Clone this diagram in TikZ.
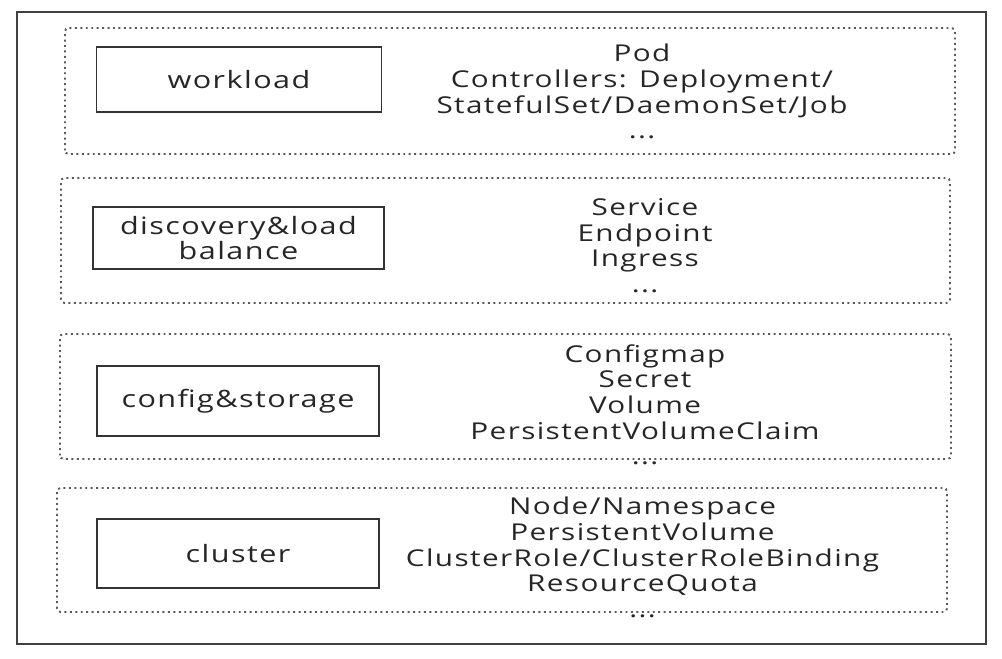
\documentclass[tikz,border=0pt]{standalone}
\usepackage{fontspec}
\setmainfont[FakeStretch=1.28,LetterSpace=6]{Open Sans}
\usepackage{tikz}
\usetikzlibrary{positioning}

\begin{document}
\begin{tikzpicture}[
    caja/.style={draw=black!80, line width=1.1pt, inner sep=0pt, align=center,
        minimum width=5.7cm, minimum height=1.33cm, text=black!85,
        font=\fontsize{13.6}{14.6}\selectfont},
    grupo/.style={draw=black!65, dotted, line width=1.1pt, rounded corners=2pt},
    lista/.style={anchor=north, inner sep=0pt, align=center, text=black!85,
        font=\fontsize{13.2}{14.6}\selectfont}
]

    % Marco de la figura (proporciones de la referencia)
    \useasboundingbox (0,0) rectangle (20.04,13.16);

    % --- 1. MARCO EXTERIOR ---
    \draw[line width=1.4pt, black!75] (0.34,0.28) rectangle (19.72,12.92);

    % --- 2. GRUPOS (rectángulos punteados) ---
    \draw[grupo] (1.30,10.08) rectangle (19.10,12.60); % workload
    \draw[grupo] (1.22,7.10) rectangle (19.00,9.60);   % discovery
    \draw[grupo] (1.20,3.98) rectangle (19.02,6.48);   % config
    \draw[grupo] (1.14,0.92) rectangle (18.94,3.40);   % cluster

    % --- 3. CATEGORÍAS (cajas de la izquierda) ---
    \node[caja, minimum height=1.30cm] (workload) at (4.78,11.57) {workload};
    \node[caja, minimum width=5.82cm, minimum height=1.24cm] (discovery) at (4.77,8.40) {discovery\&load\\balance};
    \node[caja, minimum width=5.64cm, minimum height=1.40cm] (config) at (4.76,5.14) {config\&storage};
    \node[caja, minimum width=5.64cm, minimum height=1.38cm] (cluster) at (4.76,2.09) {cluster};

    % --- 4. OBJETOS DE CADA CATEGORÍA ---
    \node[lista] (objworkload) at (12.84,12.28) {Pod\\Controllers: Deployment/\\StatefulSet/DaemonSet/Job\\...};
    \node[lista] (objdiscovery) at (12.90,9.20) {Service\\Endpoint\\Ingress\\...};
    \node[lista] (objconfig) at (12.90,6.28) {Configmap\\Secret\\Volume\\PersistentVolumeClaim\\...};
    \node[lista] (objcluster) at (12.85,3.22) {Node/Namespace\\PersistentVolume\\ClusterRole/ClusterRoleBinding\\ResourceQuota\\...};

\end{tikzpicture}
\end{document}
